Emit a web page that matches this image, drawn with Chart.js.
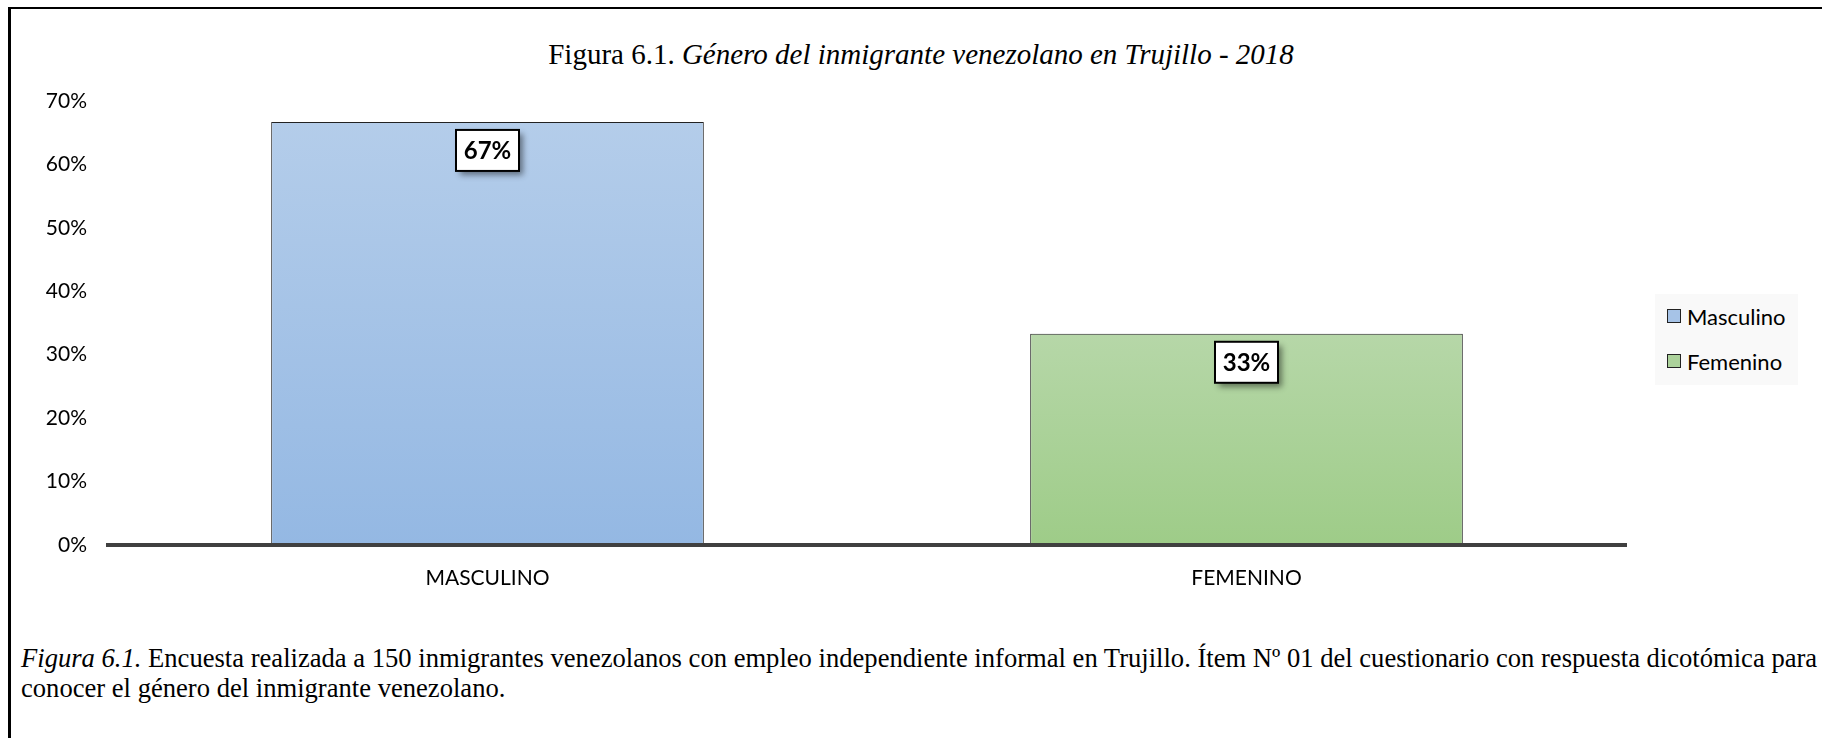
<!DOCTYPE html>
<html>
<head>
<meta charset="utf-8">
<script src="https://cdn.jsdelivr.net/npm/chart.js@4.4.0/dist/chart.umd.min.js"></script>
<style>
    body { margin: 0; background: #fff; width: 1822px; height: 738px; overflow: hidden; position: relative; }
    #marco { position: absolute; left: 8px; top: 7px; width: 1900px; height: 800px; border-left: 3px solid #000; border-top: 2px solid #000; }
    #titulo { position: absolute; left: 421px; top: 37px; width: 1000px; text-align: center; font: 29px/34px "Liberation Serif", serif; color: #000; white-space: nowrap; }
    #grafico { position: absolute; left: 0; top: 80px; }
    #leyenda { position: absolute; left: 1655px; top: 294px; width: 143px; height: 91px; background: #f9f9f9; font: 22px Lato, sans-serif; color: #000; }
    .item { position: absolute; left: 12px; height: 28px; display: flex; align-items: center; }
    .cuadro { width: 12px; height: 12px; border: 1px solid #222; margin-right: 6px; }
    #nota { position: absolute; left: 21px; top: 643px; font: 26.6px/30px "Liberation Serif", serif; color: #000; white-space: nowrap; }
</style>
</head>
<body>
<div id="marco"></div>
<div id="titulo">Figura 6.1. <i>Género del inmigrante venezolano en Trujillo - 2018</i></div>
<canvas id="grafico" width="1822" height="525"></canvas>
<div id="leyenda"></div>
<div id="nota"><i>Figura 6.1.</i> Encuesta realizada a 150 inmigrantes venezolanos con empleo independiente informal en Trujillo. Ítem Nº 01 del cuestionario con respuesta dicotómica para<br>conocer el género del inmigrante venezolano.</div>
<script>
    var categorias = ["MASCULINO", "FEMENINO"];
    var nombres = ["Masculino", "Femenino"];
    var valores = [66.7, 33.3];
    var marcasEje = [0, 10, 20, 30, 40, 50, 60, 70];
    var coloresArriba = ['#b4cdea', '#b6d7a8'];
    var coloresAbajo = ['#94b8e3', '#9ecc88'];
    var coloresLeyenda = ['#a6c3e7', '#acd29b'];

    // leyenda a la derecha
    var leyenda = document.getElementById('leyenda');
    nombres.forEach(function (n, i) {
        var fila = leyenda.appendChild(document.createElement('div'));
        fila.className = 'item';
        fila.style.top = (8 + i * 45) + 'px';
        fila.innerHTML = '<span class="cuadro" style="background:' + coloresLeyenda[i] + '"></span>' + n;
    });

    function degradado(c) {
        var chart = c.chart;
        if (!chart.chartArea) return coloresAbajo[c.dataIndex];
        var y = chart.scales.y;
        var arriba = y.getPixelForValue(c.raw);
        var abajo = y.getPixelForValue(0);
        var g = chart.ctx.createLinearGradient(0, arriba, 0, abajo);
        g.addColorStop(0, coloresArriba[c.dataIndex]);
        g.addColorStop(1, coloresAbajo[c.dataIndex]);
        return g;
    }

    // recuadro con el porcentaje
    var etiquetas = {
        id: 'etiquetas',
        afterDatasetsDraw: function (chart) {
            var ctx = chart.ctx;
            chart.getDatasetMeta(0).data.forEach(function (barra, i) {
                var x = barra.x - 31.5;
                var y = barra.y + 8;
                ctx.save();
                ctx.shadowColor = 'rgba(0, 0, 0, 0.45)';
                ctx.shadowBlur = 6;
                ctx.shadowOffsetX = 4;
                ctx.shadowOffsetY = 4;
                ctx.fillStyle = '#fff';
                ctx.fillRect(x, y, 63, 41);
                ctx.restore();
                ctx.save();
                ctx.strokeStyle = '#000';
                ctx.lineWidth = 2;
                ctx.strokeRect(x, y, 63, 41);
                ctx.fillStyle = '#000';
                ctx.font = 'bold 24px Lato';
                ctx.textAlign = 'center';
                ctx.textBaseline = 'middle';
                ctx.fillText(Math.round(valores[i]) + '%', barra.x, y + 21);
                ctx.restore();
            });
        }
    };

    let grafico = new Chart(document.getElementById('grafico'), {
        type: 'bar',
        data: {
            labels: categorias,
            datasets: [{
                label: "Género",
                data: valores,
                backgroundColor: degradado,
                borderColor: '#222',
                borderWidth: 1,
                categoryPercentage: 1,
                barPercentage: 0.57
            }]
        },
        options: {
            responsive: false,
            animation: false,
            devicePixelRatio: 1,
            layout: { padding: { left: 20, right: 196, top: 21, bottom: 0 } },
            plugins: {
                legend: { display: false },
                tooltip: { enabled: false }
            },
            scales: {
                x: {
                    grid: { display: false },
                    border: { display: true, color: '#404040', width: 4, z: 1 },
                    ticks: { color: '#000', padding: 13, font: { family: 'Lato', size: 21 } },
                    afterFit: function (s) { s.height = 60; }
                },
                y: {
                    min: 0,
                    max: 70,
                    grid: { display: false, drawTicks: false },
                    border: { display: false },
                    afterBuildTicks: function (s) { s.ticks = marcasEje.map(function (v) { return { value: v }; }); },
                    ticks: {
                        color: '#000',
                        padding: 21,
                        font: { family: 'Lato', size: 21 },
                        callback: function (v) { return v + '%'; }
                    },
                    afterFit: function (s) {
                        s.width = 88;
                        s.paddingTop = 0;
                        s.paddingBottom = 0;
                    }
                }
            }
        },
        plugins: [etiquetas]
    });
</script>
</body>
</html>
